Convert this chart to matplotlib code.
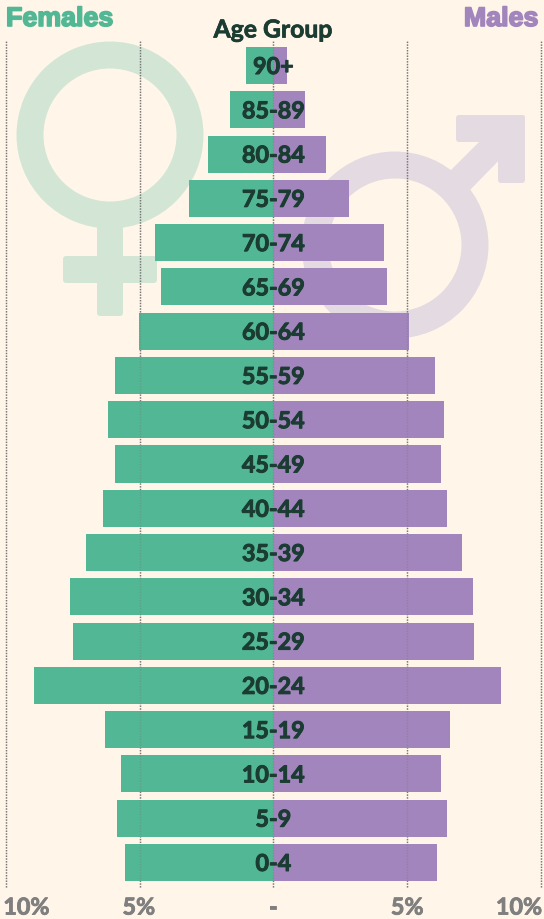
import matplotlib
matplotlib.use("Agg")
import matplotlib.pyplot as plt
import matplotlib.patheffects as pe
from matplotlib.patches import Wedge, FancyBboxPatch, Polygon

age_groups = ["0-4", "5-9", "10-14", "15-19", "20-24", "25-29", "30-34", "35-39", "40-44", "45-49",
              "50-54", "55-59", "60-64", "65-69", "70-74", "75-79", "80-84", "85-89", "90+"]
females = [5.55, 5.85, 5.7, 6.3, 8.95, 7.5, 7.6, 7.0, 6.37, 5.93,
           6.19, 5.93, 5.03, 4.2, 4.43, 3.16, 2.45, 1.63, 1.03]
males = [6.11, 6.49, 6.26, 6.6, 8.5, 7.5, 7.46, 7.05, 6.49, 6.26,
         6.37, 6.04, 5.07, 4.24, 4.13, 2.82, 1.96, 1.18, 0.5]
tick_pos = [-10, -5, 0, 5, 10]
tick_labels = ["10%", "5%", "-", "5%", "10%"]

BG = "#FFF6E9"
GREEN = "#52B795"
PURPLE = "#A185BC"
DARK = "#1B3C32"
GREY = "#7F7F7F"
PALE_GREEN = "#D3E6D6"
PALE_PURPLE = "#E4DAE1"

plt.rcParams["font.family"] = ["Lato", "DejaVu Sans"]

fig = plt.figure(figsize=(5.44, 9.2), dpi=100, facecolor=BG)

# background symbols, in pixel coords
bgax = fig.add_axes([0, 0, 1, 1], zorder=0)
bgax.set_xlim(0, 544)
bgax.set_ylim(920, 0)
bgax.axis("off")


def rbox(x0, y0, x1, y1, color):
    bgax.add_patch(FancyBboxPatch((x0 + 3, y0 + 3), x1 - x0 - 6, y1 - y0 - 6,
                                  boxstyle="round,pad=3,rounding_size=3", fc=color, ec="none"))


# female sign
rbox(97, 225, 123, 317, PALE_GREEN)
rbox(63, 257, 157, 284, PALE_GREEN)
bgax.add_patch(Wedge((110, 136), 93.5, 0, 360, width=27, fc=PALE_GREEN, ec="none"))
# male sign
bgax.add_patch(Polygon([(450, 172), (490, 132), (510, 150), (470, 191)], fc=PALE_PURPLE, ec="none"))
rbox(456, 116, 525, 143, PALE_PURPLE)
rbox(498, 116, 525, 184, PALE_PURPLE)
bgax.add_patch(Wedge((395, 246), 93.5, 0, 360, width=27, fc=PALE_PURPLE, ec="none"))

ax = fig.add_axes([0, 0, 1, 1], zorder=1)
ax.patch.set_alpha(0)
ax.set_xlim(-10.22, 10.11)
ax.set_ylim(-1.277, 19.503)
ax.axis("off")

ypos = list(range(len(age_groups)))
ax.barh(ypos, [-v for v in females], height=0.836, color=GREEN, zorder=2)
ax.barh(ypos, males, height=0.836, color=PURPLE, zorder=2)

# grid shows faintly through the bars
for t in tick_pos:
    ax.plot([t, t], [-0.56, 18.56], color="#777777", lw=1, ls=(0, (1, 1)), zorder=1)
    ax.plot([t, t], [-0.56, 18.56], color="#777777", lw=1, ls=(0, (1, 1)), alpha=0.35, zorder=3)

outline = [pe.withStroke(linewidth=0.7, foreground=DARK)]
for y, lab in zip(ypos, age_groups):
    ax.text(0, y, lab, ha="center", va="center_baseline", fontsize=16.8, fontweight="bold", color=DARK,
            zorder=4, path_effects=outline)

tick_x = [-9.23, -5.03, 0, 5, 9.18]
grey_line = [pe.withStroke(linewidth=0.6, foreground=GREY)]
for x, lab in zip(tick_x, tick_labels):
    ax.text(x, -1.03, lab, ha="center", va="center", fontsize=16.8, fontweight="bold", color=GREY,
            path_effects=grey_line)

fig.text(273 / 544, 1 - 31 / 920, "Age Group", ha="center", va="center", fontsize=17.8, fontweight="bold", color=DARK,
         path_effects=[pe.withStroke(linewidth=0.5, foreground=DARK)])

stroke = [pe.withStroke(linewidth=1.2, foreground=GREEN)]
fig.text(6 / 544, 1 - 20 / 920, "Females", ha="left", va="center", fontsize=19.3, fontweight="bold",
         family="Liberation Sans", color=GREEN, path_effects=stroke)
stroke = [pe.withStroke(linewidth=1.2, foreground=PURPLE)]
fig.text(538 / 544, 1 - 20 / 920, "Males", ha="right", va="center", fontsize=19.3, fontweight="bold",
         family="Liberation Sans", color=PURPLE, path_effects=stroke)

fig.savefig("out.png", dpi=100, facecolor=BG)
